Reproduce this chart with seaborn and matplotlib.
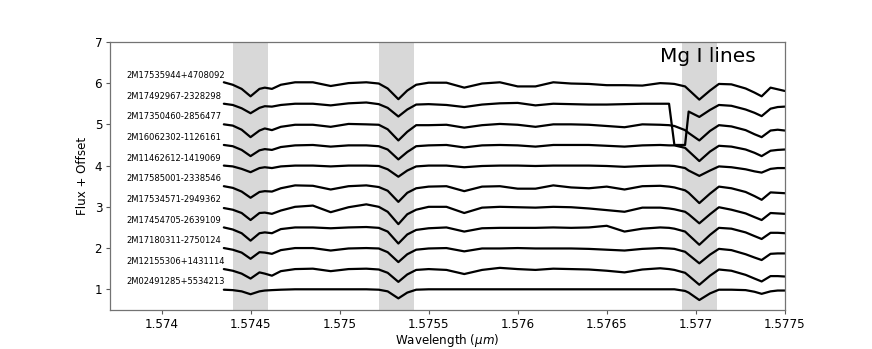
import numpy as np
import pandas as pd
import matplotlib
matplotlib.use("Agg")
import matplotlib.pyplot as plt
import seaborn as sns

# ---- data -------------------------------------------------------------
wavelength = [1.57435, 1.57440, 1.57445, 1.57450, 1.57455, 1.57458, 1.57462, 1.57467,
              1.57475, 1.57485, 1.57495, 1.57505, 1.57515, 1.57522, 1.57527, 1.57533,
              1.57538, 1.57543, 1.57550, 1.57560, 1.57570, 1.57580, 1.57590, 1.57600,
              1.57610, 1.57620, 1.57630, 1.57640, 1.57650, 1.57660, 1.57670, 1.57680,
              1.57685, 1.57688, 1.57694, 1.57696, 1.57702, 1.57708, 1.57713, 1.57720,
              1.57728, 1.57733, 1.57737, 1.57742, 1.57746, 1.57750]

star_names = ["2M17535944+4708092", "2M17492967-2328298", "2M17350460-2856477",
              "2M16062302-1126161", "2M11462612-1419069", "2M17585001-2338546",
              "2M17534571-2949362", "2M17454705-2639109", "2M17180311-2750124",
              "2M12155306+1431114", "2M02491285+5534213"]

offsets = [5.0, 4.5, 4.0, 3.5, 3.0, 2.5, 2.0, 1.5, 1.0, 0.5, 0.0]

flux_1 = [1.02, 0.96, 0.86, 0.68, 0.86, 0.89, 0.86, 0.96, 1.02, 1.02, 0.93, 1.00, 1.02, 0.99, 0.87, 0.61,
          0.82, 0.96, 1.01, 1.01, 0.89, 0.99, 1.02, 0.92, 0.92, 1.02, 0.99, 0.98, 0.95, 0.95, 0.94, 1.00,
          0.99, 0.98, 0.92, 0.84, 0.60, 0.82, 0.98, 0.97, 0.87, 0.77, 0.68, 0.89, 0.85, 0.81]
flux_2 = [1.00, 0.97, 0.89, 0.77, 0.90, 0.94, 0.93, 0.97, 1.00, 1.00, 0.96, 1.01, 1.03, 0.99, 0.90, 0.69,
          0.86, 0.98, 0.99, 0.97, 0.92, 0.98, 1.01, 1.02, 0.96, 1.00, 0.99, 0.98, 0.98, 0.99, 1.00, 1.00,
          1.00, 0.00, 0.00, 0.81, 0.68, 0.85, 0.97, 0.95, 0.86, 0.78, 0.70, 0.88, 0.92, 0.93]
flux_3 = [1.00, 0.97, 0.87, 0.69, 0.85, 0.90, 0.86, 0.94, 0.99, 0.99, 0.94, 1.01, 1.00, 0.99, 0.88, 0.61,
          0.82, 0.98, 0.98, 0.99, 0.92, 0.98, 1.01, 0.99, 0.94, 1.00, 1.00, 0.99, 0.96, 0.93, 1.00, 0.99,
          0.98, 0.96, 0.86, 0.79, 0.61, 0.84, 0.98, 0.95, 0.86, 0.76, 0.69, 0.85, 0.87, 0.85]
flux_4 = [1.00, 0.97, 0.88, 0.73, 0.87, 0.90, 0.88, 0.95, 0.99, 1.00, 0.96, 0.99, 0.99, 0.97, 0.89, 0.65,
          0.83, 0.97, 0.99, 1.00, 0.94, 0.99, 1.00, 0.99, 0.96, 1.00, 1.00, 1.00, 0.98, 0.96, 0.99, 1.00,
          0.99, 0.99, 0.93, 0.85, 0.61, 0.84, 0.98, 0.96, 0.89, 0.81, 0.73, 0.86, 0.88, 0.89]
flux_5 = [1.00, 0.98, 0.92, 0.84, 0.94, 0.96, 0.94, 0.98, 1.00, 1.00, 0.98, 1.00, 1.00, 0.99, 0.91, 0.73,
          0.88, 0.98, 1.00, 1.00, 0.96, 0.99, 1.00, 1.00, 0.99, 1.00, 1.00, 1.00, 0.99, 0.97, 0.99, 1.00,
          1.00, 0.99, 0.94, 0.88, 0.75, 0.88, 0.98, 0.96, 0.91, 0.86, 0.83, 0.92, 0.94, 0.94]
flux_6 = [1.00, 0.96, 0.87, 0.72, 0.86, 0.88, 0.87, 0.95, 1.02, 1.01, 0.92, 1.00, 1.02, 0.98, 0.89, 0.62,
          0.84, 0.95, 0.99, 1.00, 0.88, 0.99, 1.00, 0.94, 0.94, 1.02, 0.97, 0.95, 0.99, 0.92, 1.00, 1.01,
          0.99, 0.97, 0.90, 0.84, 0.59, 0.82, 0.99, 0.95, 0.86, 0.76, 0.67, 0.85, 0.84, 0.83]
flux_7 = [0.97, 0.93, 0.85, 0.68, 0.85, 0.86, 0.83, 0.91, 1.00, 1.03, 0.87, 0.99, 1.06, 1.00, 0.88, 0.58,
          0.82, 0.93, 1.00, 1.00, 0.85, 0.98, 1.00, 0.99, 0.98, 1.00, 0.99, 0.96, 0.92, 0.88, 0.98, 0.98,
          0.96, 0.94, 0.88, 0.82, 0.60, 0.82, 0.99, 0.93, 0.84, 0.75, 0.68, 0.85, 0.84, 0.83]
flux_8 = [1.00, 0.95, 0.86, 0.68, 0.86, 0.88, 0.86, 0.96, 1.00, 1.00, 0.98, 1.00, 1.01, 0.99, 0.90, 0.61,
          0.83, 0.94, 0.98, 1.00, 0.90, 0.98, 0.99, 0.99, 0.99, 1.00, 0.99, 1.00, 1.04, 0.90, 0.97, 1.00,
          0.99, 0.97, 0.90, 0.82, 0.58, 0.82, 0.99, 0.97, 0.88, 0.79, 0.72, 0.87, 0.87, 0.86]
flux_9 = [1.00, 0.96, 0.89, 0.74, 0.90, 0.89, 0.86, 0.95, 1.00, 1.00, 0.94, 0.99, 1.00, 0.99, 0.90, 0.66,
          0.85, 0.96, 0.99, 1.00, 0.92, 0.99, 0.99, 1.00, 0.99, 0.99, 0.99, 0.98, 0.96, 0.94, 0.98, 1.00,
          0.99, 0.98, 0.91, 0.84, 0.63, 0.84, 0.98, 0.95, 0.85, 0.77, 0.71, 0.86, 0.87, 0.87]
flux_10 = [0.99, 0.95, 0.88, 0.76, 0.91, 0.88, 0.83, 0.94, 0.99, 1.00, 0.94, 0.99, 1.00, 0.98, 0.90, 0.68,
           0.86, 0.97, 0.99, 0.97, 0.87, 0.97, 1.02, 0.99, 0.97, 1.00, 0.99, 0.98, 0.95, 0.91, 0.98, 1.01,
           0.99, 0.97, 0.90, 0.83, 0.61, 0.83, 0.98, 0.95, 0.85, 0.76, 0.69, 0.82, 0.82, 0.81]
flux_11 = [0.99, 0.98, 0.95, 0.88, 0.95, 0.97, 0.98, 0.99, 1.00, 1.00, 1.00, 1.00, 1.00, 0.99, 0.95, 0.78,
           0.92, 0.99, 1.00, 1.00, 1.00, 1.00, 1.00, 1.00, 1.00, 1.00, 1.00, 1.00, 1.00, 1.00, 1.00, 1.00,
           1.00, 1.00, 0.96, 0.92, 0.74, 0.90, 0.99, 0.99, 0.98, 0.94, 0.89, 0.95, 0.97, 0.97]

fluxes = [flux_1, flux_2, flux_3, flux_4, flux_5, flux_6, flux_7, flux_8, flux_9, flux_10, flux_11]

mg_spans = [(1.5744, 1.5746), (1.57522, 1.57542), (1.57692, 1.57712)]

x_ticks = [1.574, 1.5745, 1.575, 1.5755, 1.576, 1.5765, 1.577, 1.5775]
x_tick_labels = ["1.574", "1.5745", "1.575", "1.5755", "1.576", "1.5765", "1.577", "1.5775"]
y_ticks = [1, 2, 3, 4, 5, 6, 7]

# ---- long-form table ----------------------------------------------------
rows = []
for name, off, fl in zip(star_names, offsets, fluxes):
    for w, f in zip(wavelength, fl):
        rows.append({"star": name, "wavelength": w, "value": f + off})
df = pd.DataFrame(rows)

# ---- plot ----------------------------------------------------------------
sns.set_style("ticks", {"text.color": "black", "axes.labelcolor": "black",
                        "xtick.color": "black", "ytick.color": "black"})
plt.rcParams["font.family"] = ["DejaVu Sans"]

fig, ax = plt.subplots(figsize=(8.72, 3.49), dpi=100)
fig.subplots_adjust(left=0.126, right=0.900, top=0.880, bottom=0.112)

for lo, hi in mg_spans:
    ax.axvspan(lo, hi, color="gray", alpha=0.3, lw=0, zorder=0)

sns.lineplot(data=df, x="wavelength", y="value", units="star", estimator=None,
             color="black", lw=1.6, sort=False, legend=False, ax=ax)

for name, off in zip(star_names, offsets):
    ax.text(1.5738, off + 1.18, name, fontsize=6, color="black", ha="left", va="center")

ax.text(1.5768, 6.5, "Mg I lines", fontsize=14.5, color="black", ha="left", va="baseline")

ax.set_xlim(1.57371, 1.5775)
ax.set_ylim(0.5, 7)
ax.set_xticks(x_ticks)
ax.set_xticklabels(x_tick_labels)
ax.set_yticks(y_ticks)
ax.tick_params(labelsize=8.6, length=3, width=0.8, color="0.35", labelcolor="black", pad=2.5)
ax.set_xlabel(r"Wavelength ($\mu m$)", fontsize=8.6, color="black", labelpad=1)
ax.set_ylabel("Flux + Offset", fontsize=8.6, color="black", labelpad=4)
for sp in ax.spines.values():
    sp.set_color("0.45")
    sp.set_linewidth(0.9)

fig.savefig("out.png", dpi=100)
